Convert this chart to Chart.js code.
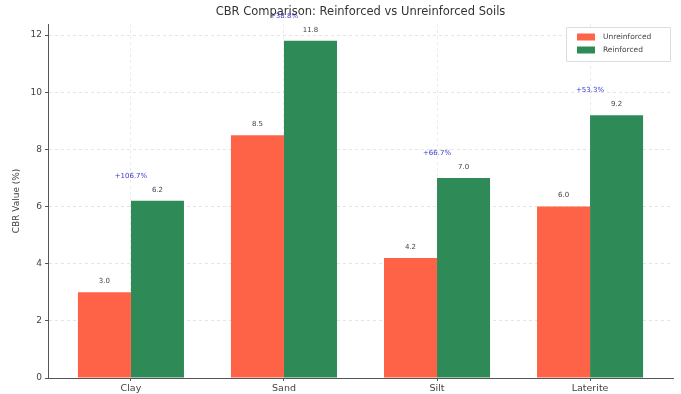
<!DOCTYPE html>
<html>
<head>
<meta charset="utf-8">
<script src="https://cdn.jsdelivr.net/npm/chart.js@4/dist/chart.umd.min.js"></script>
<style>
html,body{margin:0;padding:0;background:#fff;}
#wrap{width:681px;height:394px;position:relative;}
</style>
</head>
<body>
<div id="wrap"><canvas id="c" width="681" height="394"></canvas></div>
<script>
const categories = ["Clay", "Sand", "Silt", "Laterite"];
const unreinforced = [3.0, 8.5, 4.2, 6.0];
const reinforced = [6.2, 11.8, 7.0, 9.2];
const improvementLabels = ["+106.7%", "+38.8%", "+66.7%", "+53.3%"];
const yTicks = [0, 2, 4, 6, 8, 10, 12];
const titleText = "CBR Comparison: Reinforced vs Unreinforced Soils";
const yTitle = "CBR Value (%)";
const seriesNames = ["Unreinforced", "Reinforced"];

const FONT = "'DejaVu Sans', sans-serif";
const RED = "#FF6347";
const GREEN = "#2E8B57";

const overlay = {
  id: "overlay",
  afterDatasetsDraw(chart) {
    const ctx = chart.ctx;
    const x = chart.scales.x, y = chart.scales.y;
    const area = chart.chartArea;
    ctx.save();
    ctx.font = "7px " + FONT;
    ctx.fillStyle = "#444";
    ctx.textAlign = "center";
    ctx.textBaseline = "middle";
    chart.data.datasets.forEach((ds, di) => {
      const meta = chart.getDatasetMeta(di);
      meta.data.forEach((bar, i) => {
        const v = ds.data[i].y;
        ctx.fillText(v.toFixed(1), bar.x, y.getPixelForValue(v) - 11);
      });
    });
    ctx.fillStyle = "#3a3acf";
    categories.forEach((c, i) => {
      const m = Math.max(unreinforced[i], reinforced[i]);
      ctx.fillText(improvementLabels[i], x.getPixelForValue(i), y.getPixelForValue(m + 0.88));
    });
    ctx.font = "11.5px " + FONT;
    ctx.fillStyle = "#333";
    ctx.fillText(titleText, (area.left + area.right) / 2, 12);
    ctx.save();
    ctx.translate(17, (area.top + area.bottom) / 2);
    ctx.rotate(-Math.PI / 2);
    ctx.font = "9px " + FONT;
    ctx.fillStyle = "#444";
    ctx.fillText(yTitle, 0, 0);
    ctx.restore();
    const lx = 566, ly = 27, lw = 104, lh = 34;
    ctx.fillStyle = "rgba(255,255,255,0.85)";
    ctx.strokeStyle = "#dddddd";
    ctx.lineWidth = 1;
    ctx.beginPath();
    ctx.rect(lx + 0.5, ly + 0.5, lw, lh);
    ctx.fill();
    ctx.stroke();
    const cols = [RED, GREEN];
    ctx.font = "7.5px " + FONT;
    ctx.textAlign = "left";
    seriesNames.forEach((n, k) => {
      const yy = ly + 10 + k * 13;
      ctx.fillStyle = cols[k];
      ctx.fillRect(577, yy - 3.5, 18, 7);
      ctx.fillStyle = "#444";
      ctx.fillText(n, 603, yy);
    });
    ctx.restore();
  }
};

const mk = arr => arr.map((v, i) => ({x: i, y: v}));

new Chart(document.getElementById("c"), {
  type: "bar",
  data: {
    datasets: [
      {label: seriesNames[0], data: mk(unreinforced), backgroundColor: RED, borderWidth: 0},
      {label: seriesNames[1], data: mk(reinforced), backgroundColor: GREEN, borderWidth: 0}
    ]
  },
  options: {
    responsive: false,
    animation: false,
    devicePixelRatio: 1,
    layout: {padding: {top: 24, right: 8, left: 0, bottom: 0}},
    plugins: {legend: {display: false}, tooltip: {enabled: false}, title: {display: false}},
    datasets: {bar: {barPercentage: 1.0, categoryPercentage: 0.693, grouped: true}},
    scales: {
      x: {
        type: "linear",
        min: -0.542,
        max: 3.542,
        offset: false,
        afterBuildTicks: s => { s.ticks = categories.map((c, i) => ({value: i})); },
        afterFit: s => { s.height = 16; },
        ticks: {
          callback: v => categories[v],
          font: {family: FONT, size: 9.5},
          color: "#444",
          padding: 2,
          autoSkip: false,
          maxRotation: 0
        },
        grid: {offset: false, color: "rgba(0,0,0,0.08)", drawTicks: true, tickLength: 3, tickColor: "#555"},
        border: {display: true, color: "#555", width: 1, dash: [3, 3]}
      },
      y: {
        min: 0,
        max: 12.39,
        afterBuildTicks: s => { s.ticks = yTicks.map(v => ({value: v})); },
        afterFit: s => { s.width = 48; },
        ticks: {font: {family: FONT, size: 9}, color: "#444", padding: 3},
        grid: {color: "rgba(0,0,0,0.1)", tickLength: 3, tickColor: "#555"},
        border: {display: true, color: "#555", width: 1, dash: [3, 3]}
      }
    }
  },
  plugins: [overlay]
});
</script>
</body>
</html>
